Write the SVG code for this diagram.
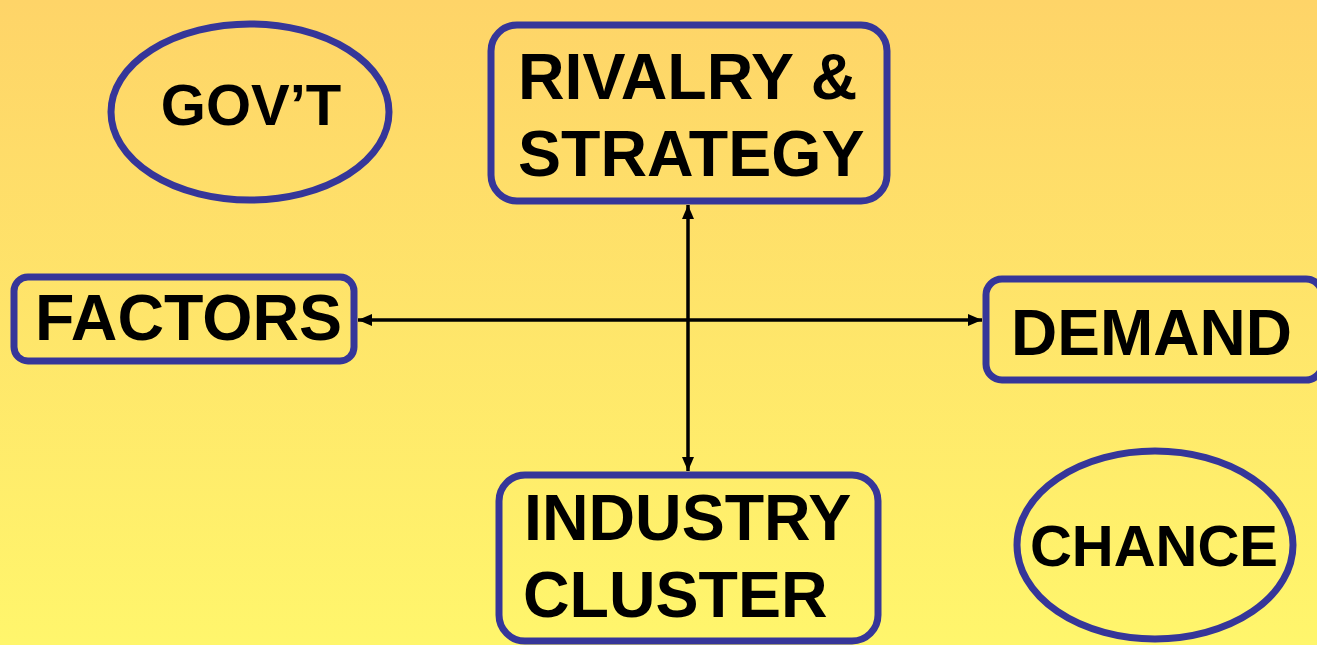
<svg xmlns="http://www.w3.org/2000/svg" width="1317" height="645" viewBox="0 0 1317 645">
<defs>
<linearGradient id="bg" x1="0" y1="0" x2="0" y2="1">
<stop offset="0" stop-color="#FED468"/>
<stop offset="1" stop-color="#FFF66C"/>
</linearGradient>
<marker id="ah" viewBox="0 0 14 12" refX="14" refY="6" markerWidth="14" markerHeight="12" markerUnits="userSpaceOnUse" orient="auto-start-reverse">
<path d="M0,0 L14,6 L0,12 Z" fill="#000"/>
</marker>
<style>
.box{fill:none;stroke:#363699;stroke-width:7}
.t{font-family:"Liberation Sans",Arial,sans-serif;font-weight:bold;fill:#000}
.c{stroke:#000;stroke-width:3.5;fill:none}
</style>
</defs>
<rect x="0" y="0" width="1317" height="645" fill="url(#bg)"/>
<g id="connectors">
<line class="c" x1="358" y1="320" x2="982" y2="320" marker-start="url(#ah)" marker-end="url(#ah)"/>
<line class="c" x1="688" y1="205" x2="688" y2="471" marker-start="url(#ah)" marker-end="url(#ah)"/>
</g>
<g id="govt">
<ellipse class="box" cx="250" cy="112" rx="139" ry="88"/>
<text class="t" x="251" y="125" font-size="58" text-anchor="middle">GOV’T</text>
</g>
<g id="rivalry">
<rect class="box" x="491" y="25" width="396" height="176" rx="26"/>
<text class="t" x="518" y="99" font-size="64.5">RIVALRY &amp;</text>
<text class="t" x="518" y="176" font-size="64.5">STRATEGY</text>
</g>
<g id="factors">
<rect class="box" x="14" y="277" width="340" height="84" rx="14"/>
<text class="t" x="35" y="340" font-size="64.5">FACTORS</text>
</g>
<g id="demand">
<rect class="box" x="986" y="279" width="336" height="101" rx="16"/>
<text class="t" x="1011" y="355" font-size="64">DEMAND</text>
</g>
<g id="industry">
<rect class="box" x="499" y="475" width="379" height="166" rx="26"/>
<text class="t" x="524" y="540" font-size="64.5">INDUSTRY</text>
<text class="t" x="523" y="617" font-size="64.5">CLUSTER</text>
</g>
<g id="chance">
<ellipse class="box" cx="1155" cy="545" rx="138" ry="94"/>
<text class="t" x="1154" y="566" font-size="58" text-anchor="middle">CHANCE</text>
</g>
</svg>
